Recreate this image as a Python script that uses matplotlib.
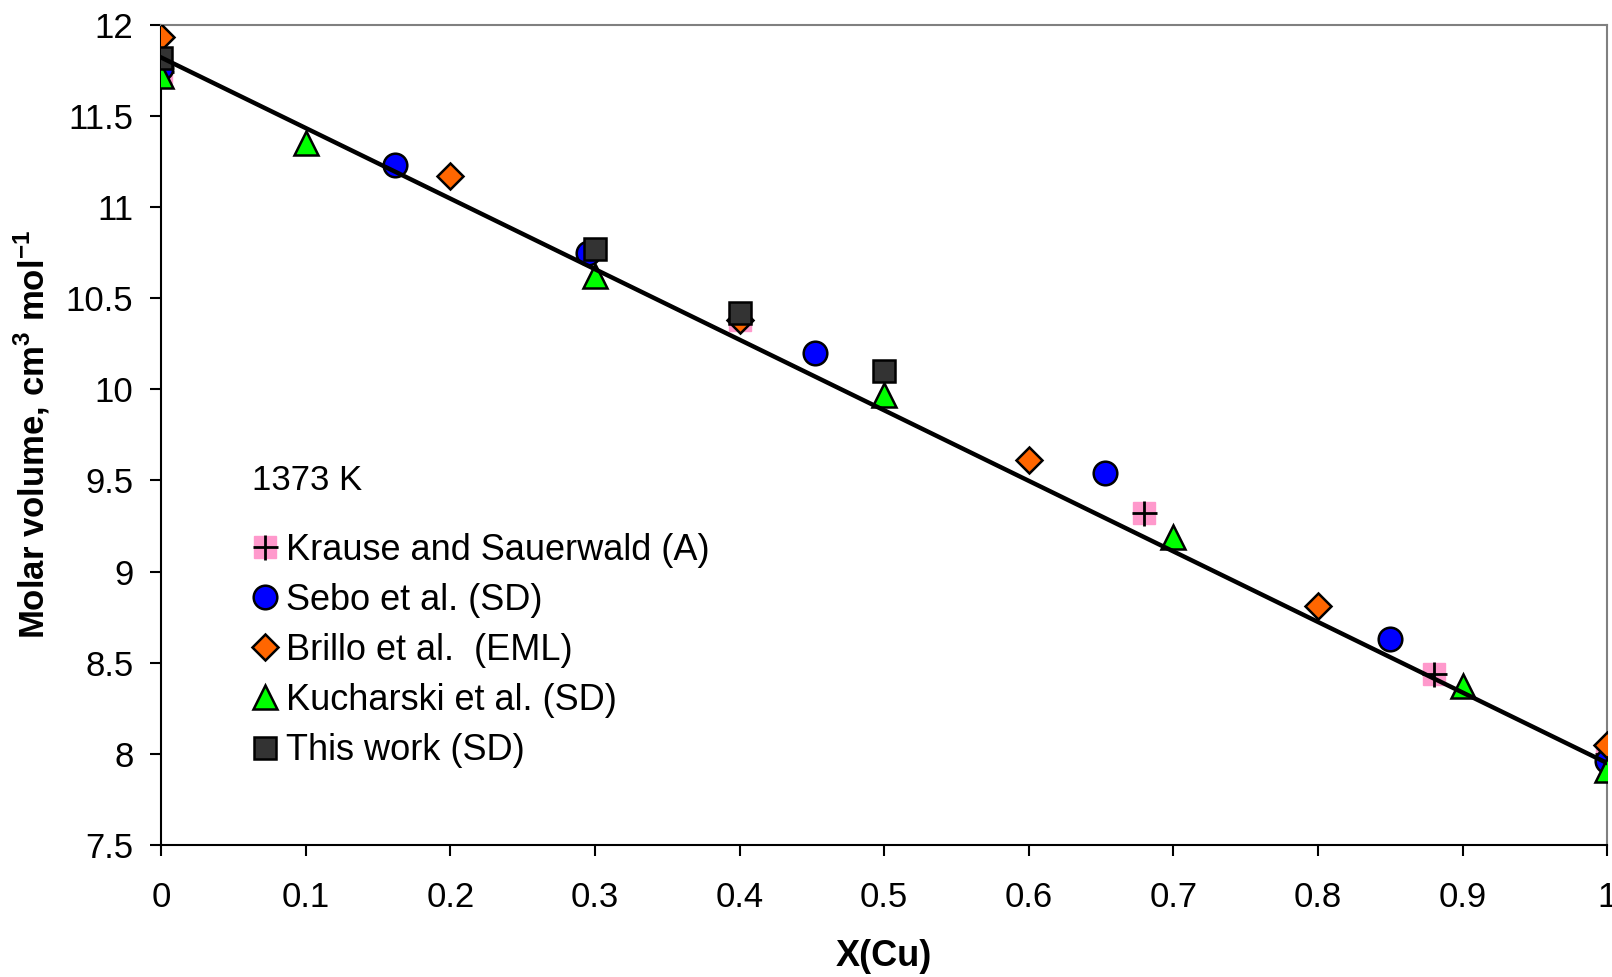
import numpy as np
import matplotlib
matplotlib.use("Agg")
import matplotlib.pyplot as plt
from matplotlib.legend_handler import HandlerTuple

plt.rcParams['font.family'] = ['Liberation Sans', 'DejaVu Sans']
plt.rcParams['mathtext.fontset'] = 'custom'
plt.rcParams['mathtext.rm'] = 'Liberation Sans'
plt.rcParams['mathtext.bf'] = 'Liberation Sans:bold'

# data
krause_x = [0.0, 0.4, 0.68, 0.88, 1.0]
krause_y = [11.74, 10.38, 9.32, 8.44, 8.00]

sebo_x = [0.0, 0.162, 0.295, 0.452, 0.653, 0.85, 1.0]
sebo_y = [11.76, 11.23, 10.75, 10.20, 9.54, 8.63, 7.96]

brillo_x = [0.0, 0.2, 0.4, 0.6, 0.8, 1.0]
brillo_y = [11.93, 11.17, 10.38, 9.61, 8.81, 8.05]

kuch_x = [0.0, 0.1, 0.3, 0.5, 0.7, 0.9, 1.0]
kuch_y = [11.72, 11.35, 10.62, 9.97, 9.19, 8.37, 7.91]

work_x = [0.0, 0.3, 0.4, 0.5]
work_y = [11.82, 10.77, 10.42, 10.10]

fit_x = [0.0, 1.0]
fit_y = [11.82, 7.95]

fig = plt.figure(figsize=(16.12, 9.77), dpi=100)
ax = fig.add_axes([0.1, 0.135, 0.897, 0.8397])

kr_sq, = ax.plot(krause_x, krause_y, 's', ms=16, color='#ff99cc', mec='#ff99cc', zorder=2)
kr_pl, = ax.plot(krause_x, krause_y, '+', ms=18, color='black', mew=2, zorder=2.1)
se, = ax.plot(sebo_x, sebo_y, 'o', ms=17, color='#0000ff', mec='black', mew=1.8, zorder=3)
br, = ax.plot(brillo_x, brillo_y, 'D', ms=13.5, color='#ff6600', mec='black', mew=1.8, zorder=4)
ku, = ax.plot(kuch_x, kuch_y, '^', ms=17, color='#00ff00', mec='black', mew=1.8, zorder=5)
tw, = ax.plot(work_x, work_y, 's', ms=16, color='#333333', mec='black', mew=1.8, zorder=6)
ax.plot(fit_x, fit_y, '-', color='black', lw=3.2, zorder=7)

ax.set_xlim(0, 1)
ax.set_ylim(7.5, 12)
ax.set_xticks(np.arange(0, 1.01, 0.1))
ax.set_xticklabels(['0', '0.1', '0.2', '0.3', '0.4', '0.5', '0.6', '0.7', '0.8', '0.9', '1'])
ax.set_yticks(np.arange(7.5, 12.01, 0.5))
ax.set_yticklabels(['7.5', '8', '8.5', '9', '9.5', '10', '10.5', '11', '11.5', '12'])
ax.tick_params(labelsize=25, length=8, width=1.5, direction='out')
ax.tick_params(axis='y', pad=12)
ax.tick_params(axis='x', pad=18)

for s in ['left', 'bottom']:
    ax.spines[s].set_linewidth(1.5)
    ax.spines[s].set_color('black')
for s in ['top', 'right']:
    ax.spines[s].set_linewidth(1.5)
    ax.spines[s].set_color('#808080')

ax.set_xlabel('X(Cu)', fontsize=26, fontweight='bold', labelpad=18)
ax.set_ylabel(r'Molar volume, cm$^{\mathbf{3}}$ mol$^{\mathbf{-1}}$', fontsize=25,
              fontweight='bold', labelpad=10)

ax.text(0.063, 9.5, '1373 K', fontsize=25, va='center')

leg = ax.legend([(kr_sq, kr_pl), se, br, ku, tw],
                ['Krause and Sauerwald (A)', 'Sebo et al. (SD)', 'Brillo et al.  (EML)',
                 'Kucharski et al. (SD)', 'This work (SD)'],
                handler_map={tuple: HandlerTuple(ndivide=1)},
                loc='upper left', bbox_to_anchor=(0.0616, 0.381), frameon=False,
                fontsize=26, handlelength=0.8, handletextpad=0.2, labelspacing=0.42,
                borderaxespad=0, borderpad=0, markerscale=1.0)

fig.savefig('out.png', dpi=100)
